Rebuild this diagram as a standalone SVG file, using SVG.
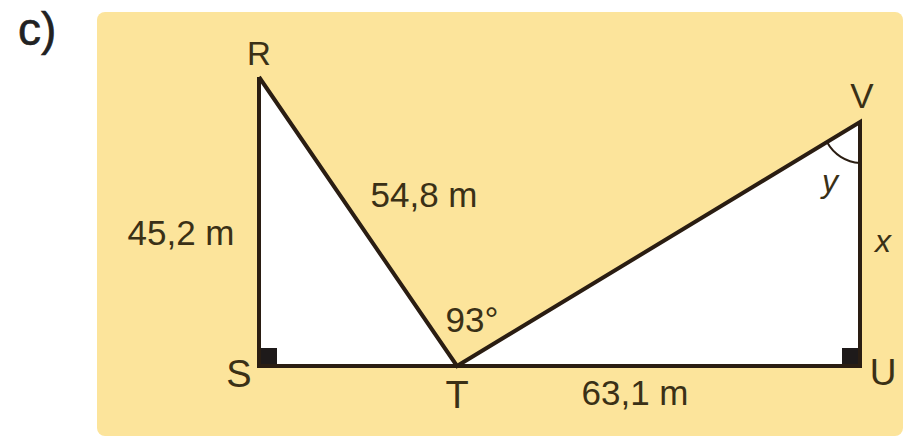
<svg xmlns="http://www.w3.org/2000/svg" width="916" height="440" viewBox="0 0 916 440">
<style>
.lbl{font-family:"Liberation Sans",Arial,sans-serif;fill:#3a3016;}
.edge{stroke:#2a1d12;stroke-width:4;fill:none;stroke-linejoin:miter;}
</style>
<rect x="0" y="0" width="916" height="440" fill="#ffffff"/>
<text class="lbl" x="18" y="45" font-size="46" style="fill:#222;stroke:#222;stroke-width:0.6">c)</text>
<rect id="panel" x="97" y="12" width="806" height="424" rx="8" fill="#fce49b"/>
<g id="triangle-RST">
<polygon points="259,77 259,366 457,366" fill="#ffffff"/>
<rect x="259" y="348" width="18" height="18" fill="#1e1a1a"/>
</g>
<g id="triangle-TUV">
<polygon points="457,366 860,122 860,366" fill="#ffffff"/>
<rect x="842" y="348" width="18" height="18" fill="#1e1a1a"/>
<path d="M827,142 A40,40 0 0 0 860,163" stroke="#2a1d12" stroke-width="2" fill="none"/>
</g>
<g id="connectors">
<path class="edge" d="M259,77 L259,366 L860,366 L860,122 L457,366 L259,77"/>
</g>
<g id="node-R"><text class="lbl" x="259" y="65" font-size="33" text-anchor="middle">R</text></g>
<g id="node-V"><text class="lbl" x="862" y="108" font-size="35" text-anchor="middle">V</text></g>
<g id="node-S"><text class="lbl" x="239" y="387" font-size="38" text-anchor="middle">S</text></g>
<g id="node-T"><text class="lbl" x="457" y="408" font-size="38" text-anchor="middle">T</text></g>
<g id="node-U"><text class="lbl" x="883" y="385" font-size="37" text-anchor="middle">U</text></g>
<g id="labels">
<text class="lbl" x="424" y="207" font-size="35" text-anchor="middle">54,8 m</text>
<text class="lbl" x="181" y="245" font-size="35" text-anchor="middle">45,2 m</text>
<text class="lbl" x="472" y="332" font-size="35" text-anchor="middle">93°</text>
<text class="lbl" x="635" y="405" font-size="35" text-anchor="middle">63,1 m</text>
<text class="lbl" x="883" y="252" font-size="32" font-style="italic" text-anchor="middle">x</text>
<text class="lbl" x="830" y="192" font-size="32" font-style="italic" text-anchor="middle">y</text>
</g>
</svg>
